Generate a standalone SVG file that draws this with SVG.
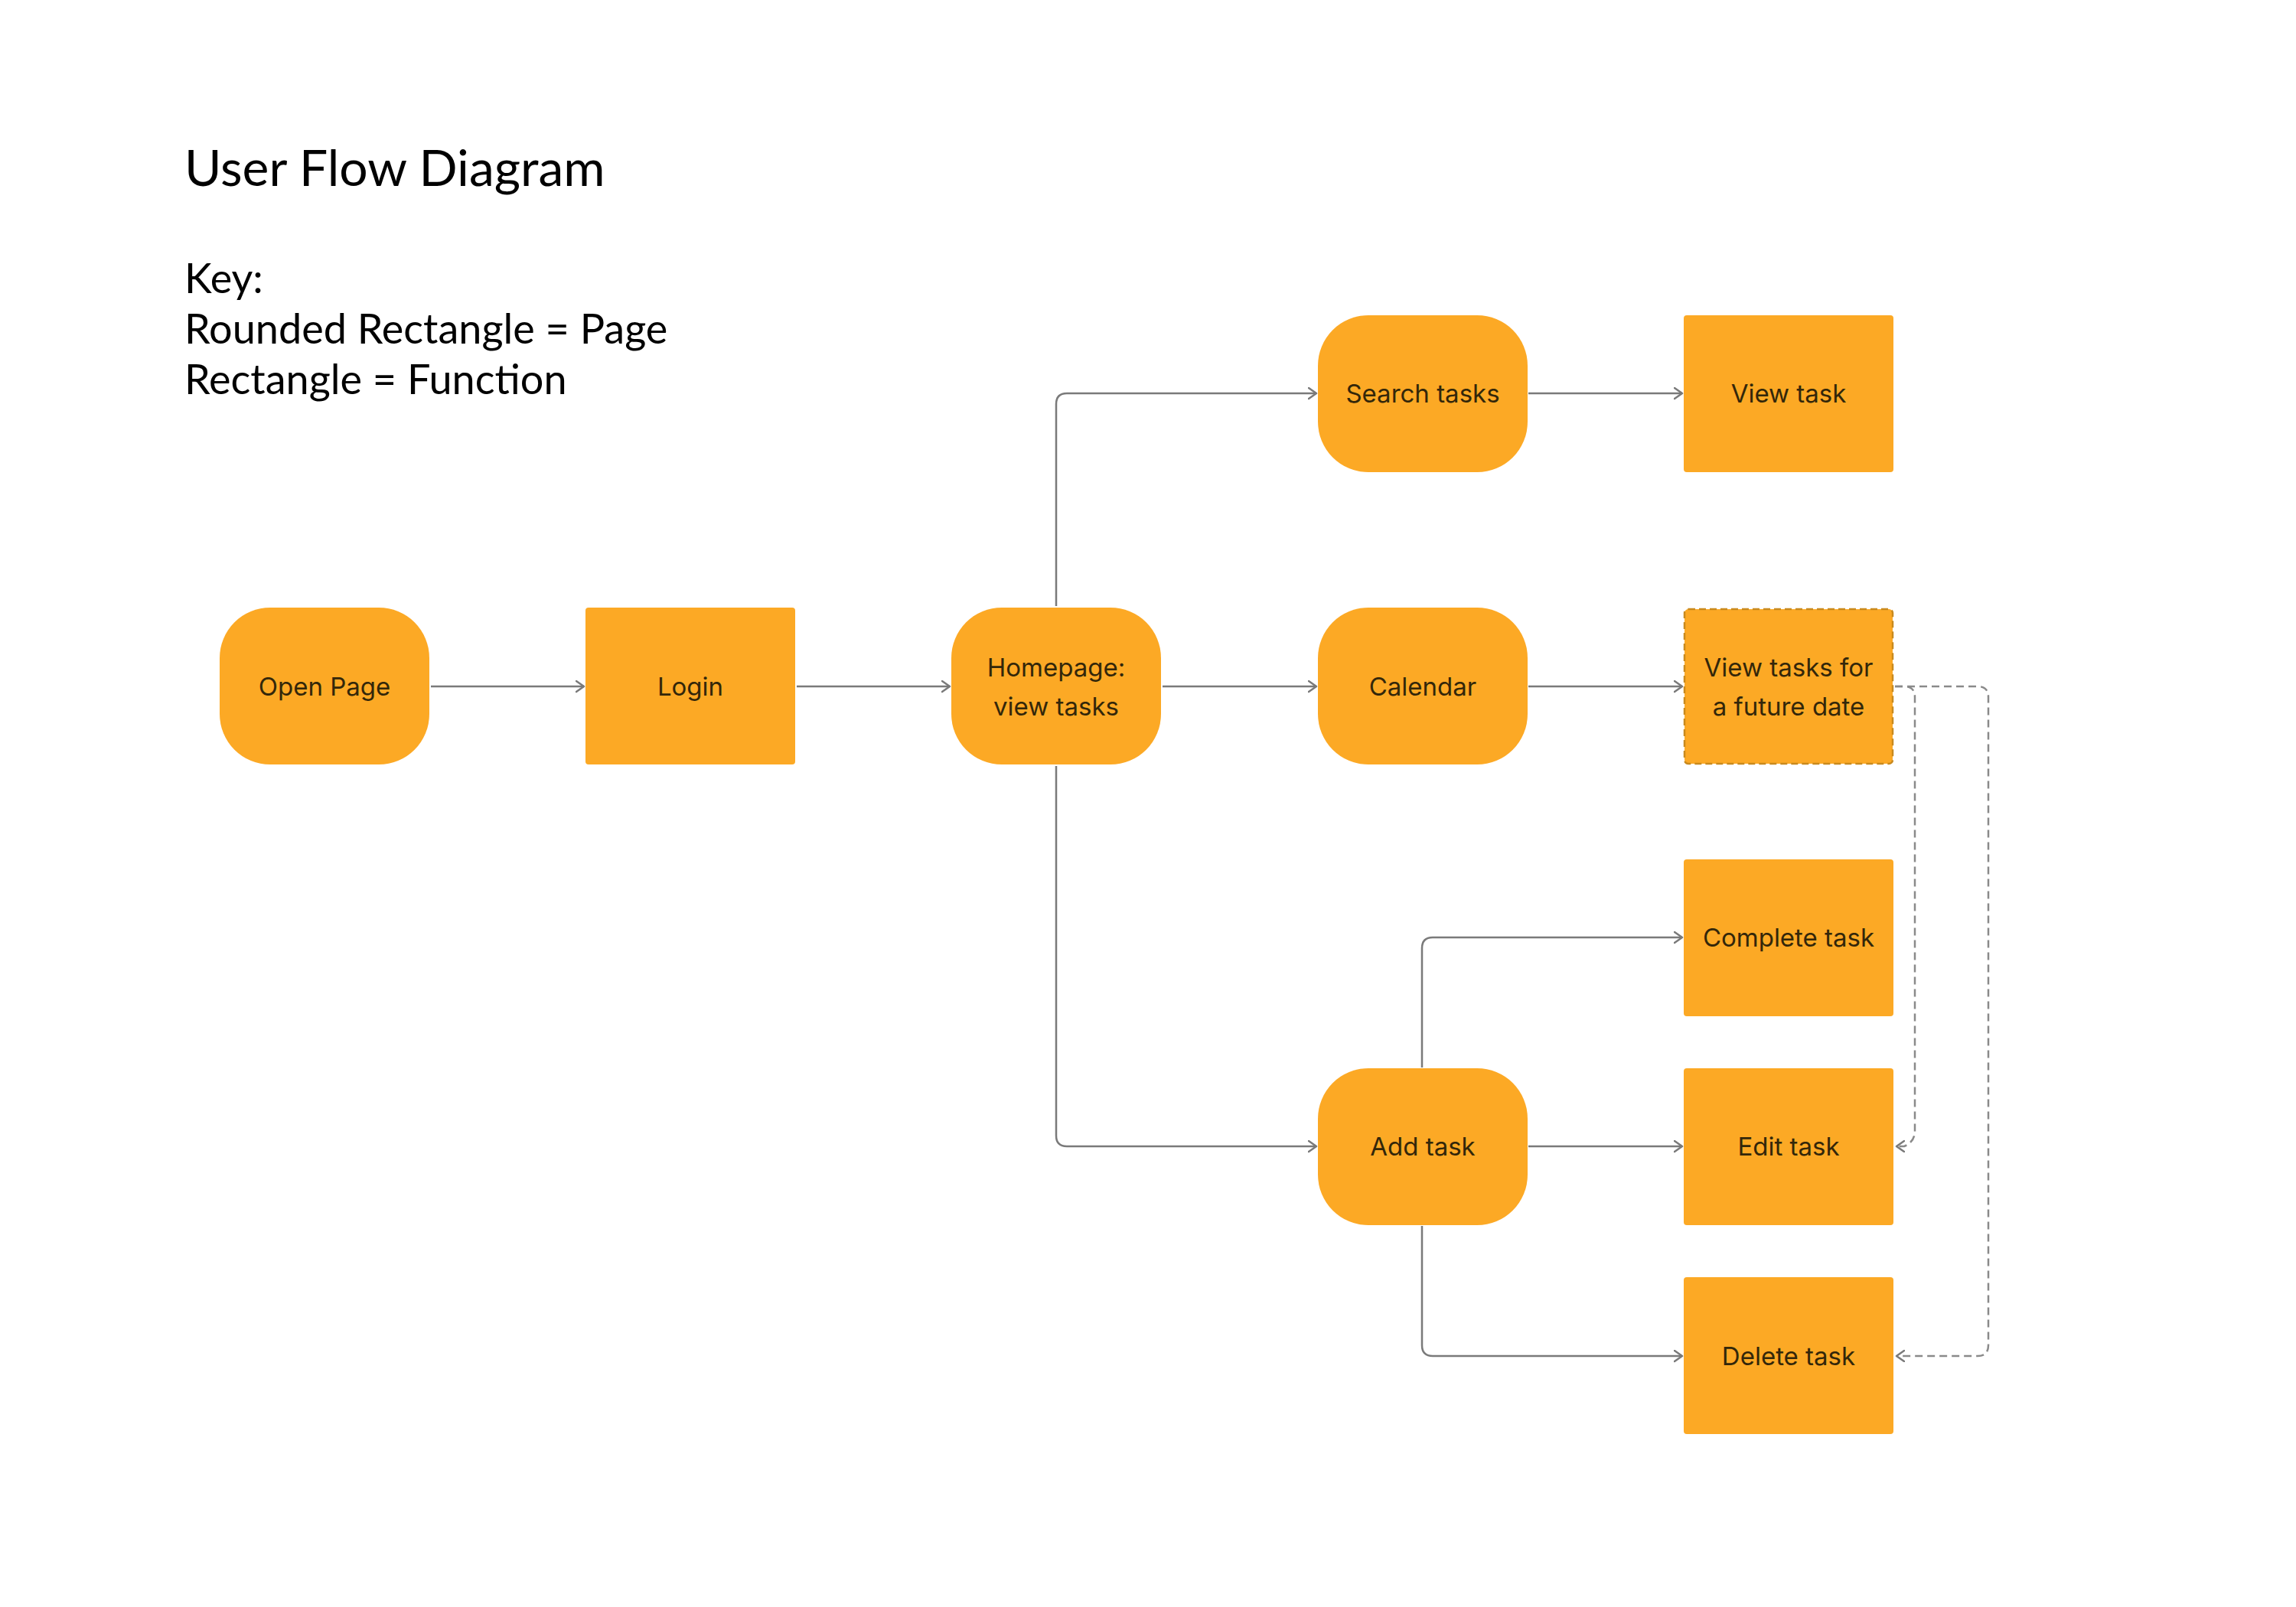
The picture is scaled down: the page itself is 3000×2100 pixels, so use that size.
<svg xmlns="http://www.w3.org/2000/svg" width="3000" height="2100" viewBox="0 0 3000 2100">
<style>
.page{fill:#FCA925;}
.func{fill:#FCA925;}
.lbl{font-family:Inter,"Noto Sans",sans-serif;font-size:33px;fill:#33270a;text-anchor:middle;dominant-baseline:central;}
.hd{font-family:Lato,"Liberation Sans",sans-serif;fill:#000;}
.con{fill:none;stroke:#7a7a7a;stroke-width:2.5;marker-end:url(#arr);}
.dash{fill:none;stroke:#8a8a8a;stroke-width:2.5;stroke-dasharray:10 6;marker-end:url(#arr);}
</style>
<defs>
<marker id="arr" markerUnits="userSpaceOnUse" markerWidth="16" markerHeight="20" refX="11" refY="8" orient="auto">
<path d="M1,1 L11,8 L1,15" fill="none" stroke="#7a7a7a" stroke-width="2.5" stroke-linecap="round" stroke-linejoin="round"/>
</marker>
</defs>
<rect width="3000" height="2100" fill="#fff"/>
<text class="hd" x="241" y="243" font-size="66">User Flow Diagram</text>
<text class="hd" x="241" y="383" font-size="54">Key:</text>
<text class="hd" x="241" y="449" font-size="54">Rounded Rectangle = Page</text>
<text class="hd" x="241" y="515" font-size="54">Rectangle = Function</text>

<g id="connectors">
<path class="con" d="M563,897 H763"/>
<path class="con" d="M1041,897 H1241"/>
<path class="con" d="M1519,897 H1720"/>
<path class="con" d="M1997,897 H2198"/>
<path class="con" d="M1380,792 V528 Q1380,514 1394,514 H1720"/>
<path class="con" d="M1997,514 H2198"/>
<path class="con" d="M1380,1001 V1484 Q1380,1498 1394,1498 H1720"/>
<path class="con" d="M1858,1395 V1239 Q1858,1225 1872,1225 H2198"/>
<path class="con" d="M1997,1498 H2198"/>
<path class="con" d="M1858,1602 V1758 Q1858,1772 1872,1772 H2198"/>
<path class="dash" d="M2476,897 H2488 Q2502,897 2502,911 V1478 Q2502,1492 2488,1498 H2478"/>
<path class="dash" d="M2476,897 H2584 Q2598,897 2598,911 V1758 Q2598,1772 2584,1772 H2478"/>
</g>

<g id="open-page"><rect class="page" x="287" y="794" width="274" height="205" rx="66"/><text class="lbl" x="424" y="897">Open Page</text></g>
<g id="login"><rect class="func" x="765" y="794" width="274" height="205" rx="4"/><text class="lbl" x="902" y="897">Login</text></g>
<g id="homepage"><rect class="page" x="1243" y="794" width="274" height="205" rx="66"/><text class="lbl" x="1380" y="872">Homepage:</text><text class="lbl" x="1380" y="923">view tasks</text></g>
<g id="calendar"><rect class="page" x="1722" y="794" width="274" height="205" rx="66"/><text class="lbl" x="1859" y="897">Calendar</text></g>
<g id="view-future"><rect class="func" x="2201" y="796" width="272" height="202" rx="5" stroke="#C98A1E" stroke-width="2.5" stroke-dasharray="9 5"/><text class="lbl" x="2337" y="872">View tasks for</text><text class="lbl" x="2337" y="923">a future date</text></g>
<g id="search-tasks"><rect class="page" x="1722" y="412" width="274" height="205" rx="66"/><text class="lbl" x="1859" y="514">Search tasks</text></g>
<g id="view-task"><rect class="func" x="2200" y="412" width="274" height="205" rx="4"/><text class="lbl" x="2337" y="514">View task</text></g>
<g id="complete-task"><rect class="func" x="2200" y="1123" width="274" height="205" rx="4"/><text class="lbl" x="2337" y="1225">Complete task</text></g>
<g id="add-task"><rect class="page" x="1722" y="1396" width="274" height="205" rx="66"/><text class="lbl" x="1859" y="1498">Add task</text></g>
<g id="edit-task"><rect class="func" x="2200" y="1396" width="274" height="205" rx="4"/><text class="lbl" x="2337" y="1498">Edit task</text></g>
<g id="delete-task"><rect class="func" x="2200" y="1669" width="274" height="205" rx="4"/><text class="lbl" x="2337" y="1772">Delete task</text></g>
</svg>
